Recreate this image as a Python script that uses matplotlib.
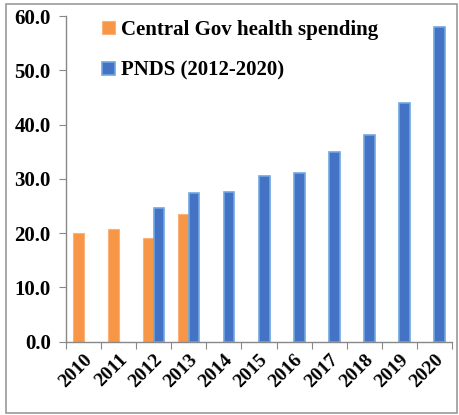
import numpy as np
import matplotlib.pyplot as plt
from matplotlib.patches import Rectangle

years = ['2010', '2011', '2012', '2013', '2014', '2015', '2016', '2017', '2018', '2019', '2020']
central = [20.0, 20.7, 19.1, 23.5, None, None, None, None, None, None, None]
pnds = [None, None, 24.7, 27.3, 27.6, 30.6, 31.1, 35.0, 38.1, 44.0, 58.0]
yticks = [0, 10, 20, 30, 40, 50, 60]

plt.rcParams['font.family'] = ['Liberation Serif', 'DejaVu Serif']
plt.rcParams['font.weight'] = 'bold'

fig = plt.figure(figsize=(4.6, 4.15), dpi=100)
ax = fig.add_axes([0.1435, 0.1767, 0.839, 0.7847])

x = np.arange(len(years))
w = 0.3
cx = [i for i, v in enumerate(central) if v is not None]
cv = [v for v in central if v is not None]
px = [i for i, v in enumerate(pnds) if v is not None]
pv = [v for v in pnds if v is not None]

ax.bar(np.array(cx) - w/2, cv, width=w, color='#f79646', edgecolor='#fab27a',
       linewidth=0.8, label='Central Gov health spending')
ax.bar(np.array(px) + w/2, pv, width=w, color='#4472c4', edgecolor='#6fa8e0',
       linewidth=1.2, label='PNDS (2012-2020)')

ax.set_xlim(-0.5, len(years) - 0.5)
ax.set_ylim(0, 60)
ax.set_yticks(yticks)
ax.set_yticklabels(['%.1f' % t for t in yticks], fontsize=15, fontweight='bold')

# ticks at category boundaries, labels at centers
ax.set_xticks(np.arange(-0.5, len(years), 1.0))
ax.set_xticklabels([])
ax.set_xticks(x, minor=True)
ax.set_xticklabels(years, minor=True, rotation=45, ha='right', va='top',
                   rotation_mode='anchor', fontsize=14, fontweight='bold')
ax.tick_params(axis='x', which='minor', length=0, pad=7)
ax.tick_params(axis='x', which='major', length=5, color='#888888', direction='out')
ax.tick_params(axis='y', length=5, color='#888888', direction='out', pad=6)

for s in ['top', 'right']:
    ax.spines[s].set_visible(False)
for s in ['left', 'bottom']:
    ax.spines[s].set_color('#888888')
    ax.spines[s].set_linewidth(1.0)

leg = ax.legend(loc='upper left', bbox_to_anchor=(0.045, 1.045), frameon=False,
                prop={'family': 'Liberation Serif', 'weight': 'bold', 'size': 15},
                handlelength=0.6, handleheight=0.6, handletextpad=0.3,
                labelspacing=1.0)

fig.patches.append(Rectangle((0.014, 0.005), 0.98, 0.985, transform=fig.transFigure,
                             fill=False, edgecolor='#999999', linewidth=1.2))

fig.savefig('out.png', dpi=100)
